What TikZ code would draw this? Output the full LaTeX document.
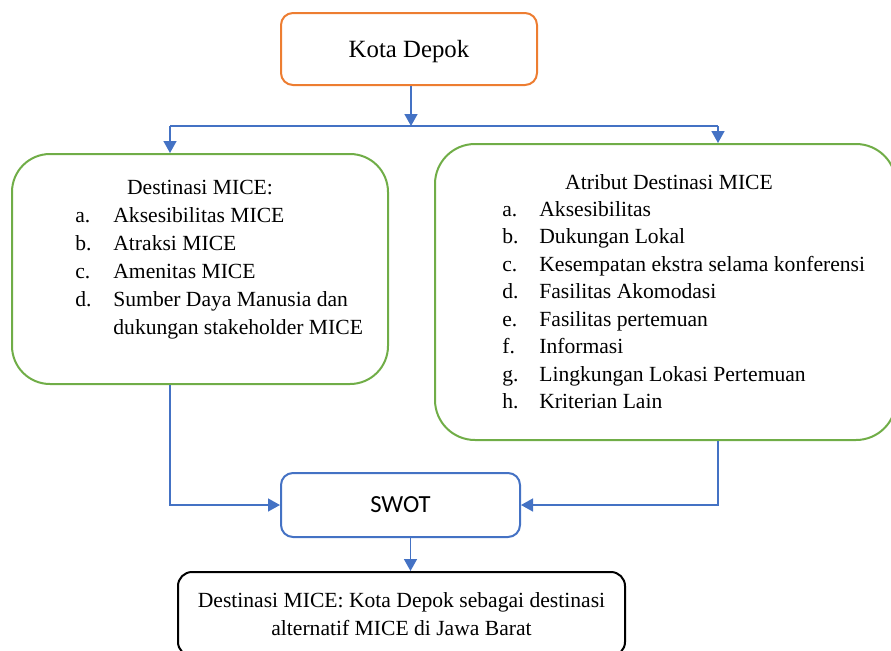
\documentclass[tikz,border=0pt]{standalone}
\usepackage{fontspec}
\setmainfont{Liberation Serif}
\newfontfamily\swotfont{Carlito}
\usetikzlibrary{arrows.meta}
\definecolor{oranye}{HTML}{ED7D31}
\definecolor{hijau}{HTML}{70AD47}
\definecolor{biru}{HTML}{4472C4}
\tikzset{
  kotak/.style={draw, rounded corners=#1, line width=1pt, inner sep=0pt},
  kotak/.default=6pt,
  garis/.style={draw=biru, line width=0.75pt},
  panah/.style={garis, -{Triangle[width=6.5pt,length=6pt]}},
}
\begin{document}
\begin{tikzpicture}[x=0.5pt, y=-0.5pt, font=\fontsize{10.8}{14}\selectfont]
  \useasboundingbox (0,0) rectangle (891,650);
  \clip (0,0) rectangle (891,650);
  % kotak utama
  \node[kotak=6pt, draw=oranye, minimum width=128pt, minimum height=36pt, text depth=0pt,
        font=\fontsize{12.4}{15}\selectfont] (depok) at (409,49) {Kota Depok};
  \node[kotak=19pt, draw=hijau, minimum width=188pt, minimum height=115pt] (destinasi) at (200,269) {};
  \node[kotak=20pt, draw=hijau, minimum width=230.5pt, minimum height=148pt] (atribut) at (665.5,292) {};
  \node[kotak=6pt, draw=biru, minimum width=119.5pt, minimum height=32pt,
        font=\swotfont\fontsize{12.3}{15}\selectfont] (swot) at (400.5,505) {SWOT};
  \node[kotak=7pt, draw=black, minimum width=223.5pt, minimum height=42pt, align=center] (hasil) at (401.5,614)
        {Destinasi MICE: Kota Depok sebagai destinasi\\alternatif MICE di Jawa Barat};
  % isi kotak kiri
  \node[anchor=base] (judulkiri) at (200,194) {Destinasi MICE:};
  \node[anchor=base west, inner sep=0pt] (isikiri) at (75,222) {\begin{tabular}[t]{@{}p{19pt}@{}l@{}}
    a. & Aksesibilitas MICE\\
    b. & Atraksi MICE\\
    c. & Amenitas MICE\\
    d. & Sumber Daya Manusia dan\\
       & dukungan stakeholder MICE
  \end{tabular}};
  % isi kotak kanan
  \node[anchor=base] (judulkanan) at (669,189) {Atribut Destinasi MICE};
  \node[anchor=base west, inner sep=0pt, font=\fontsize{10.8}{13.75}\selectfont] (isikanan) at (502,216) {\begin{tabular}[t]{@{}p{18.5pt}@{}l@{}}
    a. & Aksesibilitas\\
    b. & Dukungan Lokal\\
    c. & Kesempatan ekstra selama konferensi\\
    d. & Fasilitas Akomodasi\\
    e. & Fasilitas pertemuan\\
    f. & Informasi\\
    g. & Lingkungan Lokasi Pertemuan\\
    h. & Kriterian Lain
  \end{tabular}};
  % panah
  \coordinate (cabang) at (411,126);
  \coordinate (kiri) at (170,126);
  \coordinate (kanan) at (718,126);
  \draw[panah] (depok.south -| cabang) -- (cabang);
  \draw[garis] (kiri) -- (kanan);
  \draw[panah] (kiri) -- (kiri |- destinasi.north);
  \draw[panah] (kanan) -- (kanan |- atribut.north);
  \draw[panah] (kiri |- destinasi.south) |- (swot.west);
  \draw[panah] (kanan |- atribut.south) |- (swot.east);
  \draw[panah] ([xshift=5pt]swot.south) -- ([xshift=5pt]swot.south |- hasil.north);
\end{tikzpicture}
\end{document}
